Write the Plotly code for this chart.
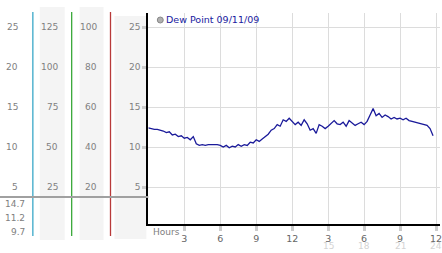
import plotly.graph_objects as go

# ---- data ----
hours = [i * 0.25 for i in range(96)]
dew_point = [
    12.4, 12.3, 12.2, 12.2, 12.1, 12.0, 11.8, 11.9, 11.5, 11.6, 11.3, 11.4,
    11.1, 11.2, 10.9, 11.3, 10.4, 10.2, 10.3, 10.2, 10.3, 10.3, 10.3, 10.3,
    10.2, 10.0, 10.2, 9.9, 10.1, 10.0, 10.3, 10.1, 10.3, 10.2, 10.6, 10.5,
    10.9, 10.7, 11.0, 11.3, 11.6, 12.1, 12.3, 12.8, 12.6, 13.4, 13.2, 13.6,
    13.2, 12.8, 13.1, 12.7, 13.4, 12.9, 12.1, 12.3, 11.7, 12.8, 12.6, 12.3,
    12.6, 13.0, 13.3, 12.9, 12.8, 13.1, 12.6, 13.3, 13.0, 12.7, 12.9, 13.1,
    12.8, 13.2, 14.0, 14.8, 13.9, 14.2, 13.7, 14.0, 13.8, 13.5, 13.7, 13.5,
    13.6, 13.4, 13.6, 13.3, 13.2, 13.1, 13.0, 12.9, 12.8, 12.7, 12.3, 11.4,
]
series_name = "Dew Point 09/11/09"

y_ticks = [5, 10, 15, 20, 25]
col2_labels = ["25", "50", "75", "100", "125"]
col3_labels = ["20", "40", "60", "80", "100"]
x_ticks = [3, 6, 9, 12, 15, 18, 21, 24]
x_ticktext = ["3", "6", "9", "12", "3", "6", "9", "12"]
x_ticks_24 = [15, 18, 21, 24]
x_ticktext_24 = ["15", "18", "21", "24"]
summary_labels = ["14.7", "11.2", "9.7"]

W, H = 442, 253
FONT = "DejaVu Sans"
GREY = "#808080"


def px(x):
    return x / W


def py(y):
    return 1 - y / H


fig = go.Figure()
fig.add_trace(go.Scatter(
    x=hours, y=dew_point, mode="lines", name=series_name,
    line=dict(color="#1a1a9a", width=1.3), showlegend=False,
))

annotations = []
shapes = []

# grey background columns in left panel
for (x0, x1, y0, y1) in [(40, 65, 7, 240), (80, 104, 7, 240), (115, 147, 16, 239)]:
    shapes.append(dict(type="rect", xref="paper", yref="paper",
                       x0=px(x0), x1=px(x1), y0=py(y1), y1=py(y0),
                       fillcolor="#f4f4f4", line=dict(width=0), layer="below"))
# coloured vertical lines
for xc, col in [(33, "#3aa8c8"), (72, "#3aa83a"), (111, "#b83a3a")]:
    shapes.append(dict(type="line", xref="paper", yref="paper",
                       x0=px(xc), x1=px(xc), y0=py(236), y1=py(12),
                       line=dict(color=col, width=1.3)))
# horizontal grey separator
shapes.append(dict(type="line", xref="paper", yref="paper",
                   x0=0, x1=px(149), y0=py(197), y1=py(197),
                   line=dict(color="#a0a0a0", width=2)))
# legend marker
shapes.append(dict(type="circle", xref="paper", yref="paper",
                   x0=px(158), x1=px(164), y0=py(23), y1=py(17),
                   fillcolor="#b0b0b0", line=dict(color="#888", width=1)))

for i, v in enumerate(y_ticks):
    annotations.append(dict(x=px(20), y=v, xref="paper", yref="y", text=str(v),
                            showarrow=False, xanchor="right", yanchor="middle",
                            font=dict(family=FONT, size=9, color=GREY)))
    annotations.append(dict(x=px(60), y=v, xref="paper", yref="y", text=col2_labels[i],
                            showarrow=False, xanchor="right", yanchor="middle",
                            font=dict(family=FONT, size=9, color=GREY)))
    annotations.append(dict(x=px(99), y=v, xref="paper", yref="y", text=col3_labels[i],
                            showarrow=False, xanchor="right", yanchor="middle",
                            font=dict(family=FONT, size=9, color=GREY)))

for lbl, yy in zip(summary_labels, [204, 218, 232]):
    annotations.append(dict(x=px(27), y=py(yy), xref="paper", yref="paper", text=lbl,
                            showarrow=False, xanchor="right", yanchor="middle",
                            font=dict(family=FONT, size=9, color=GREY)))

for xv, t in zip(x_ticks_24, x_ticktext_24):
    annotations.append(dict(x=xv, y=py(246), xref="x", yref="paper", text=t,
                            showarrow=False, xanchor="center", yanchor="middle",
                            font=dict(family=FONT, size=9, color="#d4d4d4")))

annotations.append(dict(x=px(152), y=py(232), xref="paper", yref="paper", text="Hours",
                        showarrow=False, xanchor="left", yanchor="middle",
                        font=dict(family=FONT, size=9, color=GREY)))
annotations.append(dict(x=px(165), y=py(20), xref="paper", yref="paper", text=series_name,
                        showarrow=False, xanchor="left", yanchor="middle",
                        font=dict(family=FONT, size=9.5, color="#1a1aa0")))

fig.update_layout(
    width=W, height=H,
    margin=dict(l=0, r=0, t=0, b=0),
    paper_bgcolor="white", plot_bgcolor="white",
    showlegend=False,
    xaxis=dict(domain=[px(149), 1], range=[0, 24.33],
               tickvals=x_ticks, ticktext=x_ticktext,
               ticks="outside", ticklen=5, tickwidth=3, tickcolor="#cccccc",
               ticklabeloverflow="allow",
               showline=True, linecolor="black", linewidth=2,
               showgrid=True, gridcolor="#dcdcdc", gridwidth=1,
               zeroline=False,
               tickfont=dict(family=FONT, size=9.5, color="#666")),
    yaxis=dict(domain=[py(224), py(13)], range=[0.375, 26.75],
               tickvals=y_ticks,
               ticks="outside", ticklen=4, tickwidth=3, tickcolor="#cccccc",
               showline=True, linecolor="black", linewidth=2,
               showgrid=True, gridcolor="#dcdcdc", gridwidth=1,
               zeroline=False,
               tickfont=dict(family=FONT, size=9, color=GREY)),
    annotations=annotations,
    shapes=shapes,
)

fig.write_html("out.html")
